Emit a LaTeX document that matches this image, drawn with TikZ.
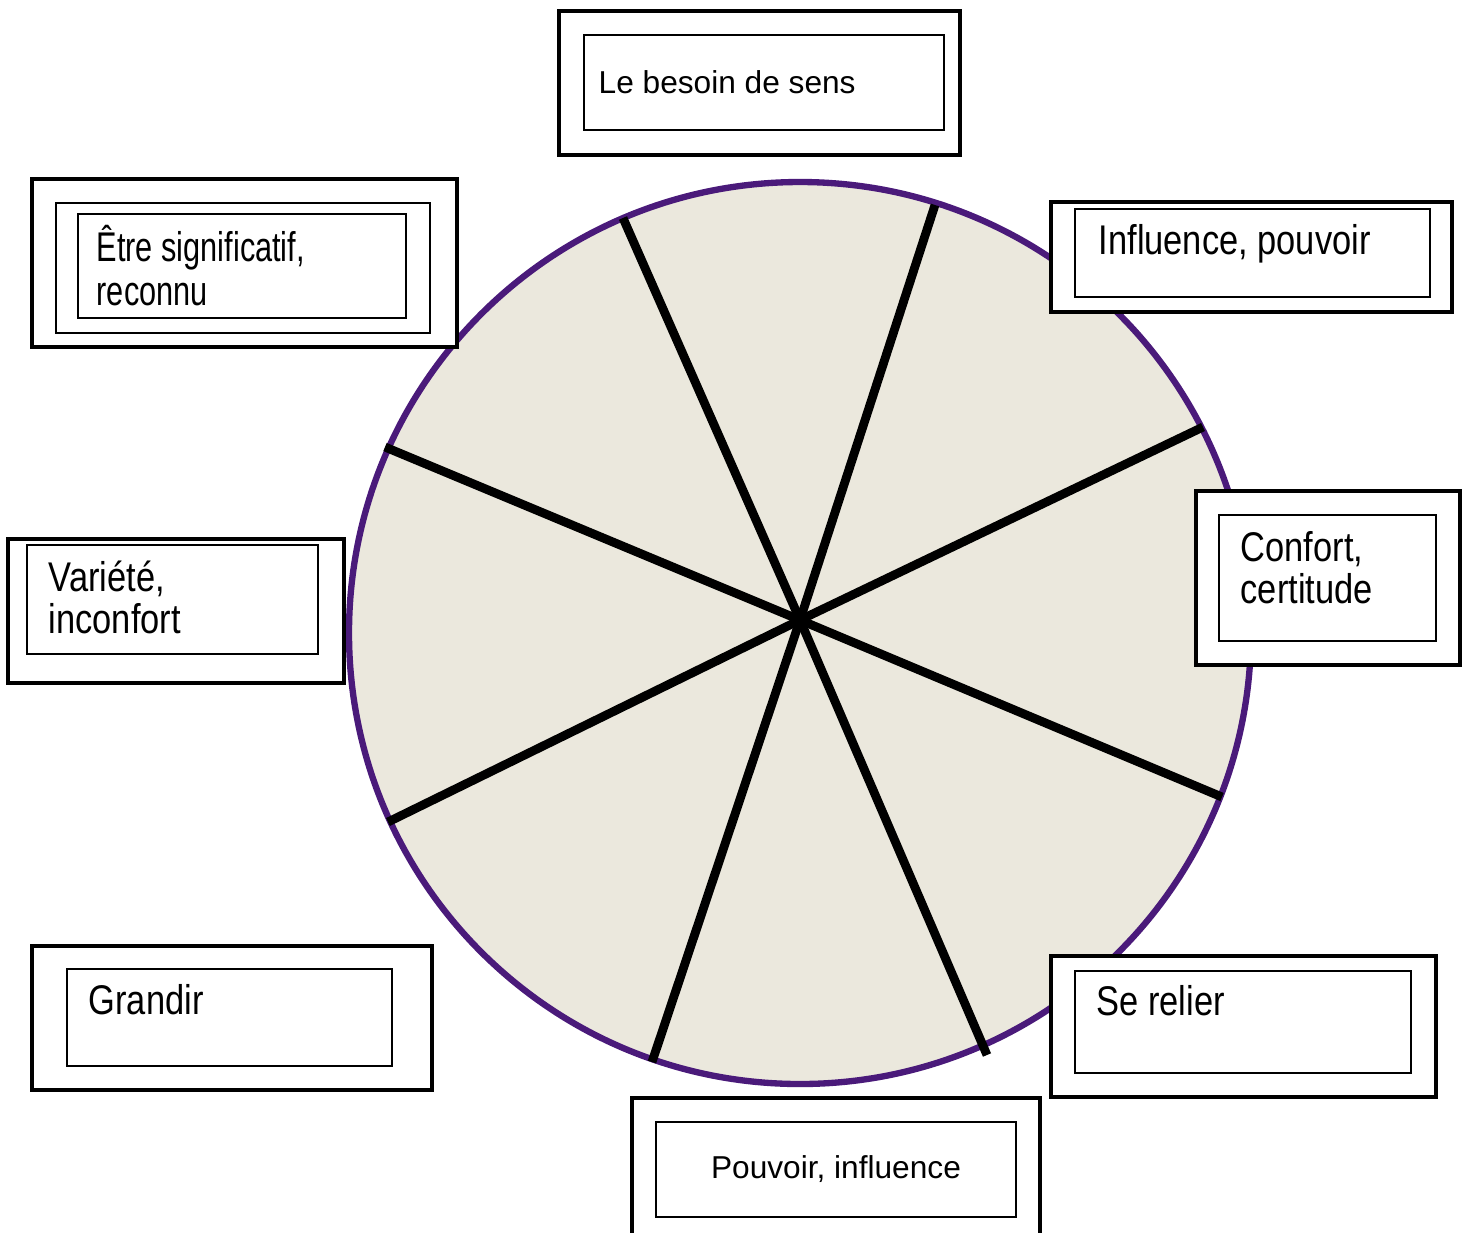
\documentclass[tikz,border=0pt]{standalone}
\usepackage{fontspec}
\setmainfont{Liberation Sans}
\newfontfamily\narrowfont[FakeStretch=0.83]{Liberation Sans}
\newfontfamily\tightfont[FakeStretch=0.74]{Liberation Sans}
\definecolor{wheelpurple}{RGB}{74,26,122}
\definecolor{wheelfill}{RGB}{235,232,221}

\begin{document}
\begin{tikzpicture}[x=0.01cm,y=-0.01cm,
  outerbox/.style={line width=1.4pt,fill=white},
  innerbox/.style={line width=0.6pt},
  spoke/.style={line width=2.5pt},
  label/.style={inner sep=0pt,anchor=base west,align=left},
  narrowlabel/.style={label,font=\narrowfont\fontsize{11.8}{11.8}\selectfont},
  plainlabel/.style={label,font=\fontsize{9}{11}\selectfont}]

\useasboundingbox (0,0) rectangle (1469,1232);

% the wheel
\coordinate (c) at (800,620);
\draw[wheelpurple,line width=1.8pt,fill=wheelfill] (800,633) circle (451);

\coordinate (s1a) at (623,218); \coordinate (s1b) at (987,1055);
\coordinate (s2a) at (935,205); \coordinate (s2b) at (652,1062);
\coordinate (s3a) at (1203,427); \coordinate (s3b) at (388,822);
\coordinate (s4a) at (385,447); \coordinate (s4b) at (1222,797);

\draw[spoke] (s1a)--(c)--(s1b);
\draw[spoke] (s2a)--(c)--(s2b);
\draw[spoke] (s3a)--(c)--(s3b);
\draw[spoke] (s4a)--(c)--(s4b);

% top
\draw[outerbox] (559,11) rectangle (960,155);
\draw[innerbox] (584,35) rectangle (944,130);
\node[plainlabel] (sens) at (598,93) {Le besoin de sens};

% upper left
\draw[outerbox] (32,179) rectangle (457,347);
\draw[innerbox] (56,203) rectangle (430,333);
\draw[innerbox] (78,214) rectangle (406,318);
\node[narrowlabel,font=\tightfont\fontsize{11.8}{12.4}\selectfont] (etre) at (96,305) {Être significatif,\\reconnu};

% upper right
\draw[outerbox] (1051,202) rectangle (1452,312);
\draw[innerbox] (1075,209) rectangle (1430,297);
\node[narrowlabel] (influence) at (1098,254) {Influence, pouvoir};

% right
\draw[outerbox] (1196,491) rectangle (1460,665);
\draw[innerbox] (1219,515) rectangle (1436,641);
\node[narrowlabel] (confort) at (1240,603) {Confort,\\certitude};

% left
\draw[outerbox] (8,539) rectangle (344,683);
\draw[innerbox] (27,545) rectangle (318,654);
\node[narrowlabel] (variete) at (48,633) {Variété,\\inconfort};

% lower left
\draw[outerbox] (32,946) rectangle (432,1090);
\draw[innerbox] (67,969) rectangle (392,1066);
\node[narrowlabel] (grandir) at (88,1014) {Grandir};

% lower right
\draw[outerbox] (1051,956) rectangle (1436,1097);
\draw[innerbox] (1075,971) rectangle (1411,1073);
\node[narrowlabel] (relier) at (1096,1015) {Se relier};

% bottom
\draw[outerbox] (632,1098) rectangle (1040,1245);
\draw[innerbox] (656,1122) rectangle (1016,1217);
\node[plainlabel,anchor=base] (pouvoir) at (836,1178) {Pouvoir, influence};

\end{tikzpicture}
\end{document}
